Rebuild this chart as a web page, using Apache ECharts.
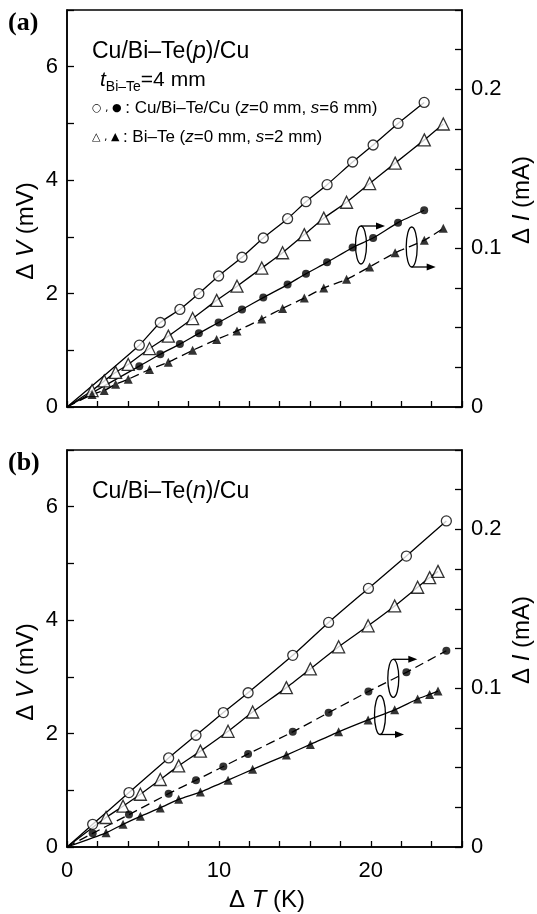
<!DOCTYPE html>
<html>
<head>
<meta charset="utf-8">
<script src="https://cdn.jsdelivr.net/npm/echarts@6/dist/echarts.min.js"></script>
<style>
  html, body { margin: 0; padding: 0; background: #fff; }
  #chart { width: 537px; height: 914px; }
</style>
</head>
<body>
<div id="chart"></div>
<script>
// panel (a): Cu/Bi-Te(p)/Cu
const aCircleT = [4.76, 6.14, 7.43, 8.68, 9.98, 11.52, 12.92, 14.52, 15.73, 17.12, 18.80, 20.15, 21.79, 23.51];
const aCircleV = [1.09, 1.49, 1.72, 2.00, 2.31, 2.64, 2.98, 3.32, 3.62, 3.92, 4.32, 4.62, 5.00, 5.37];
const aCircleI = [0.0257, 0.0332, 0.0396, 0.0464, 0.0532, 0.0614, 0.0689, 0.0771, 0.0839, 0.0911, 0.1004, 0.1064, 0.1161, 0.1239];
const aTriT = [1.65, 2.45, 3.20, 4.03, 5.43, 6.67, 8.27, 9.85, 11.19, 12.82, 14.19, 15.62, 16.90, 18.40, 19.92, 21.60, 23.52, 24.77];
const aTriV = [0.29, 0.46, 0.61, 0.75, 1.03, 1.25, 1.56, 1.88, 2.13, 2.45, 2.72, 3.04, 3.33, 3.61, 3.94, 4.30, 4.71, 4.99];
const aTriI = [0.0079, 0.0104, 0.0143, 0.0175, 0.0236, 0.0282, 0.0357, 0.0425, 0.0479, 0.0554, 0.0621, 0.0686, 0.0750, 0.0804, 0.0882, 0.0971, 0.1050, 0.1125];

// panel (b): Cu/Bi-Te(n)/Cu
const bCircleT = [1.69, 4.08, 6.69, 8.49, 10.29, 11.92, 14.86, 17.22, 19.84, 22.34, 24.97];
const bCircleV = [0.40, 0.96, 1.57, 1.97, 2.37, 2.72, 3.38, 3.96, 4.56, 5.13, 5.75];
const bCircleI = [0.0086, 0.0204, 0.0336, 0.0421, 0.0507, 0.0586, 0.0725, 0.0846, 0.0979, 0.1100, 0.1236];
const bTriT = [2.57, 3.69, 4.83, 6.14, 7.35, 8.78, 10.60, 12.22, 14.44, 16.02, 17.88, 19.82, 21.57, 23.08, 23.87, 24.42];
const bTriV = [0.52, 0.72, 0.93, 1.19, 1.43, 1.69, 2.04, 2.38, 2.81, 3.14, 3.53, 3.90, 4.25, 4.58, 4.75, 4.86];
const bTriI = [0.0089, 0.0143, 0.0193, 0.0246, 0.0300, 0.0346, 0.0421, 0.0489, 0.0579, 0.0646, 0.0725, 0.0800, 0.0864, 0.0932, 0.0961, 0.0982];

const xLabels = [0, 10, 20];
const vLabels = [0, 2, 4, 6];
const iLabels = [0, 0.1, 0.2];

const FONT = "'Liberation Sans', Arial, sans-serif";

const pairs = (xs, ys) => xs.map((x, i) => [x, ys[i]]);

const xAxisBase = (grid, labels) => ({
  gridIndex: grid, type: "value", min: 0, max: 26, interval: 2,
  axisLine: { show: true, onZero: false, lineStyle: { color: "#000", width: 1.5 } },
  axisTick: { show: true, inside: true, length: 6, lineStyle: { color: "#000", width: 1.3 } },
  axisLabel: {
    show: labels, color: "#000", fontSize: 22, fontFamily: FONT, margin: 13,
    formatter: v => (xLabels.indexOf(v) >= 0 ? String(v) : "")
  },
  splitLine: { show: false }
});

const vAxis = grid => ({
  gridIndex: grid, type: "value", position: "left", min: 0, max: 7, interval: 1,
  axisLine: { show: true, onZero: false, lineStyle: { color: "#000", width: 1.5 } },
  axisTick: { show: true, inside: true, length: 7, lineStyle: { color: "#000", width: 1.3 } },
  axisLabel: {
    color: "#000", fontSize: 22, fontFamily: FONT, margin: 9,
    formatter: v => (vLabels.indexOf(v) >= 0 ? String(v) : "")
  },
  splitLine: { show: false }
});

const iAxis = grid => ({
  gridIndex: grid, type: "value", position: "right", min: 0, max: 0.25, interval: 0.025,
  axisLine: { show: true, onZero: false, lineStyle: { color: "#000", width: 1.5 } },
  axisTick: { show: true, inside: true, length: 7, lineStyle: { color: "#000", width: 1.3 } },
  axisLabel: {
    color: "#000", fontSize: 22, fontFamily: FONT, margin: 9,
    formatter: v => {
      const hit = iLabels.find(l => Math.abs(l - v) < 1e-6);
      return hit === undefined ? "" : String(hit);
    }
  },
  splitLine: { show: false }
});

function lineSeries(xi, yi, xs, ys, dashed) {
  return {
    type: "line", xAxisIndex: xi, yAxisIndex: yi,
    data: [[0, 0]].concat(pairs(xs, ys)),
    showSymbol: false, smooth: 0.2, silent: true, z: 2,
    lineStyle: { color: "#000", width: 1.3, type: dashed ? [9, 5] : "solid" }
  };
}

function markSeries(xi, yi, xs, ys, symbol, size, open) {
  return {
    type: "scatter", xAxisIndex: xi, yAxisIndex: yi,
    data: pairs(xs, ys), symbol: symbol, symbolSize: size, z: 5,
    itemStyle: open
      ? { color: "#fff", borderColor: "#000", borderWidth: 1.3 }
      : { color: "#000", borderWidth: 0 }
  };
}

const sTri = "path://M0,-10L8.66,5L-8.66,5Z";

// text helpers
const rich = size => ({
  a: { fontSize: size, fontFamily: FONT, fill: "#000" },
  i: { fontSize: size, fontFamily: FONT, fontStyle: "italic", fill: "#000" }
});

function label(x, y, text, size, extra) {
  return Object.assign({
    type: "text", x: x, y: y, z: 20,
    style: { text: text, rich: rich(size), verticalAlign: "middle", align: "left", fill: "#000" }
  }, extra || {});
}

function ellipseArrow(cx, cy, ry, atTop) {
  const ay = atTop ? cy - ry : cy + ry;
  return [
    { type: "ellipse", z: 20, shape: { cx: cx, cy: cy, rx: 5.5, ry: ry },
      style: { fill: null, stroke: "#000", lineWidth: 1.3 } },
    { type: "line", z: 20, shape: { x1: cx, y1: ay, x2: cx + 17, y2: ay },
      style: { stroke: "#000", lineWidth: 1.3 } },
    { type: "polygon", z: 20, shape: { points: [[cx + 24, ay], [cx + 15, ay - 3.5], [cx + 15, ay + 3.5]] },
      style: { fill: "#000" } }
  ];
}

const legendRich = {
  s: { fontSize: 11, fontFamily: "'DejaVu Sans', sans-serif", fill: "#000" },
  a: { fontSize: 17, fontFamily: FONT, fill: "#000" },
  i: { fontSize: 17, fontFamily: FONT, fontStyle: "italic", fill: "#000" }
};

const panelFont = "bold 26px 'Liberation Serif', 'Times New Roman', serif";

const graphics = [
  { type: "text", x: 8, y: 23, z: 20,
    style: { text: "(a)", font: panelFont, fill: "#000", verticalAlign: "middle" } },
  { type: "text", x: 8, y: 463, z: 20,
    style: { text: "(b)", font: panelFont, fill: "#000", verticalAlign: "middle" } },
  label(92, 52, "{a|Cu/Bi–Te(}{i|p}{a|)/Cu}", 23),
  label(92, 492, "{a|Cu/Bi–Te(}{i|n}{a|)/Cu}", 23),
  { type: "text", x: 100, y: 80, z: 20,
    style: {
      text: "{t|t}{sub|Bi–Te}{a|=4 mm}", verticalAlign: "middle",
      rich: {
        t: { fontSize: 21, fontFamily: FONT, fontStyle: "italic", fill: "#000", verticalAlign: "bottom" },
        sub: { fontSize: 14, fontFamily: FONT, fill: "#000", verticalAlign: "bottom", padding: [0, 0, -4, 0] },
        a: { fontSize: 21, fontFamily: FONT, fill: "#000", verticalAlign: "bottom" }
      }
    } },
  { type: "text", x: 92, y: 108, z: 20,
    style: { text: "{s|○ , ● }{a|: Cu/Bi–Te/Cu (}{i|z}{a|=0 mm, }{i|s}{a|=6 mm)}", rich: legendRich, verticalAlign: "middle" } },
  { type: "text", x: 92, y: 137, z: 20,
    style: { text: "{s|△ , ▲ }{a|: Bi–Te (}{i|z}{a|=0 mm, }{i|s}{a|=2 mm)}", rich: legendRich, verticalAlign: "middle" } },
  // axis names
  label(26, 231, "", 24, { rotation: Math.PI / 2, style: { text: "{a|Δ }{i|V}{a| (mV)}", rich: rich(24), align: "center", verticalAlign: "middle" } }),
  label(26, 672, "", 24, { rotation: Math.PI / 2, style: { text: "{a|Δ }{i|V}{a| (mV)}", rich: rich(24), align: "center", verticalAlign: "middle" } }),
  label(522, 200, "", 24, { rotation: Math.PI / 2, style: { text: "{a|Δ }{i|I}{a| (mA)}", rich: rich(24), align: "center", verticalAlign: "middle" } }),
  label(522, 640, "", 24, { rotation: Math.PI / 2, style: { text: "{a|Δ }{i|I}{a| (mA)}", rich: rich(24), align: "center", verticalAlign: "middle" } }),
  label(267, 900, "", 24, { style: { text: "{a|Δ }{i|T}{a| (K)}", rich: rich(24), align: "center", verticalAlign: "middle" } })
]
  .concat(ellipseArrow(361, 245, 19, true))
  .concat(ellipseArrow(411.7, 247, 20, false))
  .concat(ellipseArrow(393.3, 678.3, 19, true))
  .concat(ellipseArrow(380, 715, 19.5, false));

const option = {
  backgroundColor: "#fff",
  animation: false,
  grid: [
    { left: 67, top: 10, width: 395, height: 397, show: true, borderColor: "#000", borderWidth: 1.5 },
    { left: 67, top: 450, width: 395, height: 397, show: true, borderColor: "#000", borderWidth: 1.5 }
  ],
  xAxis: [xAxisBase(0, false), xAxisBase(1, true)],
  yAxis: [vAxis(0), iAxis(0), vAxis(1), iAxis(1)],
  series: [
    // (a)
    lineSeries(0, 0, aCircleT, aCircleV, false),
    lineSeries(0, 0, aTriT, aTriV, false),
    lineSeries(0, 1, aCircleT, aCircleI, false),
    lineSeries(0, 1, aTriT, aTriI, true),
    markSeries(0, 0, aCircleT, aCircleV, "circle", 10, true),
    markSeries(0, 0, aTriT, aTriV, sTri, 12, true),
    markSeries(0, 1, aCircleT, aCircleI, "circle", 8, false),
    markSeries(0, 1, aTriT, aTriI, sTri, 9, false),
    // (b)
    lineSeries(1, 2, bCircleT, bCircleV, false),
    lineSeries(1, 2, bTriT, bTriV, false),
    lineSeries(1, 3, bCircleT, bCircleI, true),
    lineSeries(1, 3, bTriT, bTriI, false),
    markSeries(1, 2, bCircleT, bCircleV, "circle", 10, true),
    markSeries(1, 2, bTriT, bTriV, sTri, 12, true),
    markSeries(1, 3, bCircleT, bCircleI, "circle", 8, false),
    markSeries(1, 3, bTriT, bTriI, sTri, 9, false)
  ],
  graphic: graphics
};

const chart = echarts.init(document.getElementById("chart"), null, { renderer: "canvas" });
chart.setOption(option);
</script>
</body>
</html>
